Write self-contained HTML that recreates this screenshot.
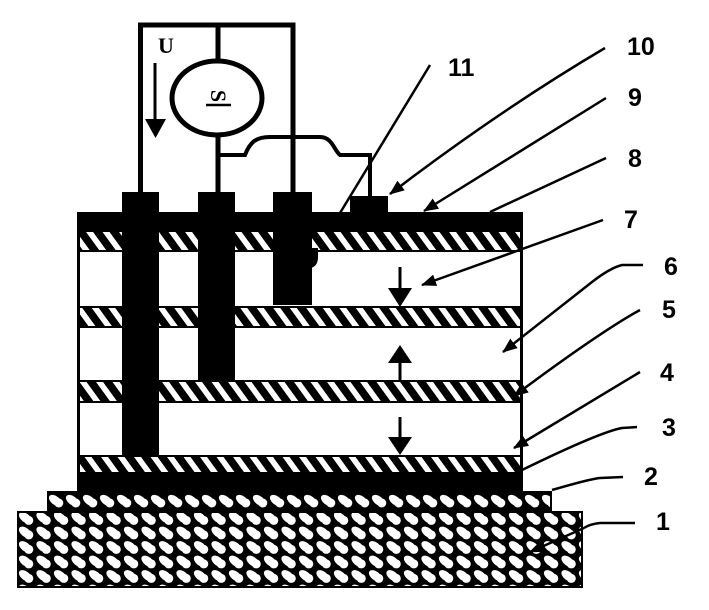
<!DOCTYPE html>
<html><head><meta charset="utf-8"><style>
html,body{margin:0;padding:0;background:#fff;}
svg{display:block;}
</style></head><body>
<svg width="709" height="610" viewBox="0 0 709 610" xmlns="http://www.w3.org/2000/svg">
<defs>
<pattern id="hatch" patternUnits="userSpaceOnUse" width="16.5" height="20" patternTransform="skewX(36)">
<rect x="0" y="0" width="7" height="20" fill="#fff"/>
</pattern>
<pattern id="sub" patternUnits="userSpaceOnUse" x="17" y="511" width="17.5" height="14.5">
<g fill="#fff">
<ellipse cx="8.3" cy="6.8" rx="7.4" ry="4.3" transform="rotate(38 8.3 6.8)"/>
<circle cx="11.8" cy="9.4" r="4.5"/>
</g>
</pattern>
<pattern id="lay2" patternUnits="userSpaceOnUse" x="47" y="491" width="17" height="21">
<g fill="#fff">
<ellipse cx="8.3" cy="9.5" rx="7.4" ry="4.3" transform="rotate(38 8.3 9.5)"/>
<circle cx="11.8" cy="12" r="4.5"/>
</g>
</pattern>
<marker id="ah" markerUnits="userSpaceOnUse" markerWidth="16" markerHeight="12" refX="14" refY="6" orient="auto">
<path d="M0 0 L15 6 L0 12 Z" fill="#000"/>
</marker>
</defs>

<!-- substrate 1 -->
<rect x="17" y="511" width="566" height="77" fill="#000"/>
<rect x="19" y="513" width="562" height="73" fill="url(#sub)"/>
<!-- layer 2 -->
<rect x="47" y="491" width="505" height="21" fill="#000"/>
<rect x="49" y="494" width="501" height="16" fill="url(#lay2)"/>
<!-- black layer -->
<rect x="77" y="472" width="446" height="20" fill="#000"/>
<!-- hatched band D -->
<rect x="77" y="455" width="446" height="19" fill="#000"/>
<rect x="79" y="457" width="442" height="15" fill="url(#hatch)"/>
<!-- hatched band C -->
<rect x="77" y="380" width="446" height="23" fill="#000"/>
<rect x="79" y="382" width="442" height="19" fill="url(#hatch)"/>
<!-- hatched band B -->
<rect x="77" y="306" width="446" height="22" fill="#000"/>
<rect x="79" y="308" width="442" height="18" fill="url(#hatch)"/>
<!-- hatched band A -->
<rect x="77" y="229" width="446" height="23" fill="#000"/>
<rect x="79" y="232" width="442" height="18" fill="url(#hatch)"/>
<!-- black layer 8 -->
<rect x="77" y="212" width="446" height="19" fill="#000"/>
<!-- side borders -->
<line x1="78.5" y1="212" x2="78.5" y2="492" stroke="#000" stroke-width="3"/>
<line x1="521.5" y1="212" x2="521.5" y2="492" stroke="#000" stroke-width="3"/>

<!-- electrodes -->
<rect x="122" y="192" width="37" height="264" fill="#000"/>
<rect x="198" y="192" width="37" height="189" fill="#000"/>
<rect x="273" y="192" width="39" height="113" fill="#000"/>
<path d="M311 248 H318 V257 Q318 266 311 268 Z" fill="#000"/>
<rect x="350" y="196" width="38" height="17" fill="#000"/>

<!-- wires -->
<path d="M140.5 192 V25 H293 V192" fill="none" stroke="#000" stroke-width="5"/>
<line x1="218" y1="25" x2="218" y2="60" stroke="#000" stroke-width="5"/>
<line x1="218" y1="136" x2="218" y2="192" stroke="#000" stroke-width="5"/>
<ellipse cx="217" cy="98" rx="45" ry="37" fill="#fff" stroke="#000" stroke-width="5"/>
<path d="M218 155 H245 C250 142 256 137 270 137 H320 C332 137 334 150 340 155 H370 V197" fill="none" stroke="#000" stroke-width="4"/>

<!-- U arrow -->
<line x1="155" y1="63" x2="155" y2="121" stroke="#000" stroke-width="3"/>
<path d="M145 119 L166 119 L155.5 138 Z" fill="#000"/>
<text x="158" y="53" font-family="Liberation Serif, serif" font-weight="bold" font-size="22">U</text>

<!-- symbol in circle -->
<text x="0" y="0" font-family="Liberation Serif, serif" font-weight="bold" font-size="22" text-anchor="middle" transform="translate(218 96) rotate(90)" dy="7">S</text>
<line x1="206" y1="105" x2="231" y2="105" stroke="#000" stroke-width="2.5"/>

<!-- arrows in layers -->
<line x1="400" y1="267" x2="400" y2="290" stroke="#000" stroke-width="3"/>
<path d="M388 288 L412 288 L400 307 Z" fill="#000"/>
<line x1="400" y1="360" x2="400" y2="380" stroke="#000" stroke-width="3"/>
<path d="M388 363 L412 363 L400 345 Z" fill="#000"/>
<line x1="400" y1="417" x2="400" y2="439" stroke="#000" stroke-width="3"/>
<path d="M388 437 L412 437 L400 455 Z" fill="#000"/>

<!-- leaders -->
<g fill="none" stroke="#000" stroke-width="2.5">
<path d="M430 65 L340 213"/>
<path d="M605 48 Q500 110 390 194" marker-end="url(#ah)"/>
<path d="M606 98 L424 211" marker-end="url(#ah)"/>
<path d="M606 158 L490 212"/>
<path d="M603 220 L422 285" marker-end="url(#ah)"/>
<path d="M643 265 L622 265 Q610 268 592 282 L503 352" marker-end="url(#ah)"/>
<path d="M640 310 Q600 332 514 396" marker-end="url(#ah)"/>
<path d="M640 372 L514 448" marker-end="url(#ah)"/>
<path d="M637 427 L622 428 Q600 432 522 470"/>
<path d="M623 477 L600 478 Q590 479 552 490"/>
<path d="M635 523 L600 523 Q590 524 584 528"/>
<path d="M584 528 L530 552" marker-end="url(#ah)"/>
</g>

<!-- labels -->
<g font-family="Liberation Sans, sans-serif" font-weight="bold" font-size="25" fill="#000">
<text x="448" y="76">11</text>
<text x="627" y="55">10</text>
<text x="628" y="106">9</text>
<text x="628" y="167">8</text>
<text x="624" y="228">7</text>
<text x="664" y="275">6</text>
<text x="662" y="318">5</text>
<text x="660" y="381">4</text>
<text x="662" y="436">3</text>
<text x="644" y="485">2</text>
<text x="656" y="530">1</text>
</g>
</svg>
</body></html>
